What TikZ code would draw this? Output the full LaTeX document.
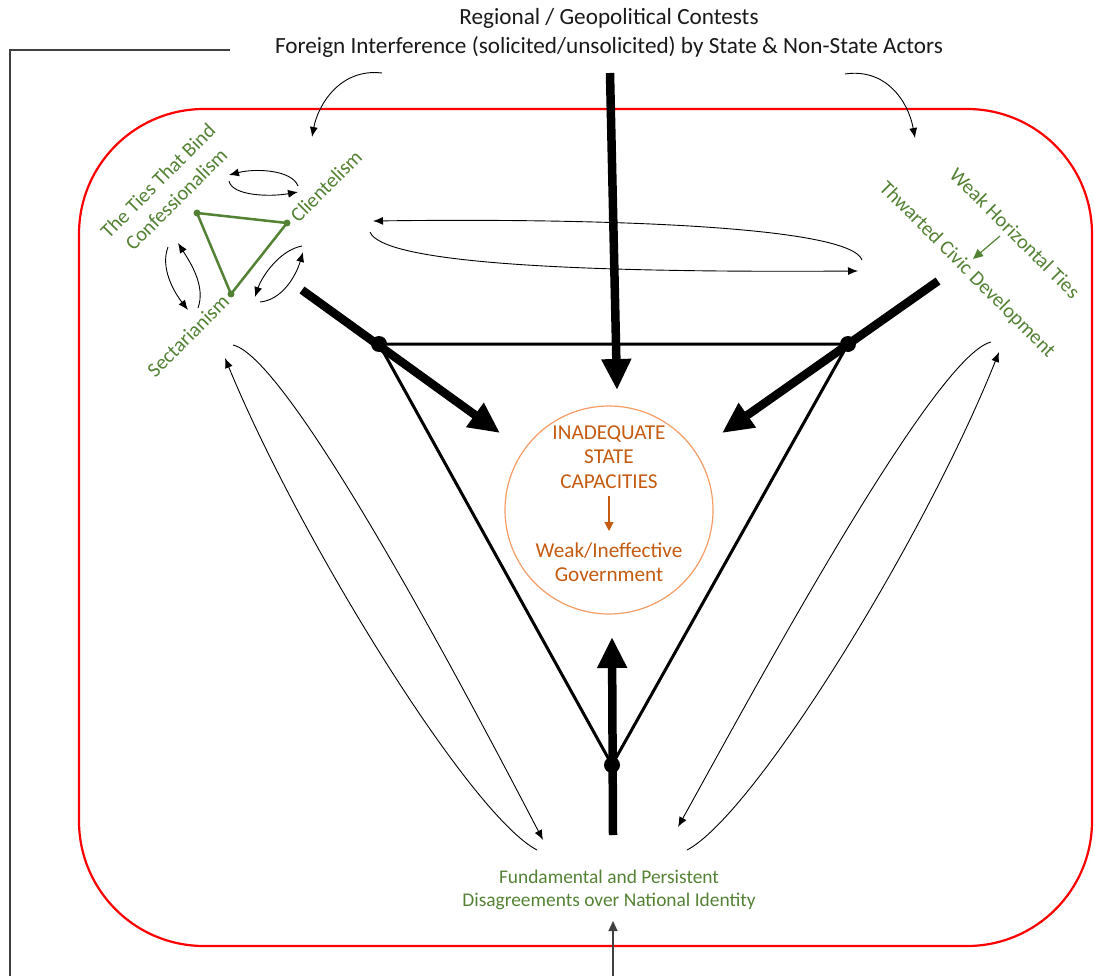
\documentclass[tikz,border=0pt]{standalone}
\usepackage{fontspec}
\setmainfont{Carlito}
\usetikzlibrary{arrows.meta}
\definecolor{grn}{RGB}{84,130,53}
\definecolor{orgline}{RGB}{244,156,100}
\definecolor{orgtext}{RGB}{197,90,17}
\definecolor{dgray}{RGB}{64,64,64}
\begin{document}
\begin{tikzpicture}[x=1pt,y=-1pt,
  thinarrow/.style={line width=0.9pt, -{Latex[length=10pt,width=8pt]}},
  thickarrow/.style={line width=8.5pt, -{Triangle[length=31pt,width=28pt]}},
  glabel/.style={text=grn, font=\fontsize{20.5}{26}\selectfont, inner sep=0pt, align=center},
  olabel/.style={text=orgtext, font=\fontsize{21.2}{24.5}\selectfont, inner sep=0pt, align=center},
  bigdot/.style={circle, fill=black, inner sep=0pt, minimum size=16pt},
  gdot/.style={circle, fill=grn, inner sep=0pt, minimum size=7pt},
]
\useasboundingbox (0,0) rectangle (1094,976);

% outer frame
\draw[red, line width=2.2pt, rounded corners=125pt] (79,109) rectangle (1092,946);

% gray external line
\coordinate (g0) at (230,50);
\coordinate (g1) at (10,50);
\coordinate (g2) at (10,985);
\draw[dgray, line width=1.3pt] (g0) -- (g1) -- (g2);

% top text
\node[font=\fontsize{23.2}{29}\selectfont, text=black!90, align=center, inner sep=0pt] (top) at (609,33)
  {Regional / Geopolitical Contests\\Foreign Interference (solicited/unsolicited) by State \& Non-State Actors};

% top curved arrows
\coordinate (tla) at (382,73);
\coordinate (tlb) at (312,137);
\draw[thinarrow] (tla) .. controls (340,68) and (318,105) .. (tlb);
\coordinate (tra) at (845,74);
\coordinate (trb) at (915,138);
\draw[thinarrow] (tra) .. controls (885,68) and (908,100) .. (trb);

% green labels
\node[glabel, rotate=45] (ties) at (167,190) {The Ties That Bind\\Confessionalism};
\node[glabel, rotate=45] (client) at (326,186) {Clientelism};
\node[glabel, rotate=45] (sect) at (188,336) {Sectarianism};
\node[glabel, rotate=-45] (weak) at (1015,233) {Weak Horizontal Ties};
\node[glabel, rotate=-45] (thw) at (967,270) {Thwarted Civic Development};
\node[glabel, font=\fontsize{19.4}{23}\selectfont] (fund) at (609,890)
  {Fundamental and Persistent\\Disagreements over National Identity};

% green small arrow
\coordinate (ga0) at (1000,236);
\coordinate (ga1) at (973,259);
\draw[grn, line width=1.2pt, -{Triangle[length=10pt,width=9pt]}] (ga0) -- (ga1);

% green triangle
\node[gdot] (gc) at (197,213) {};
\node[gdot] (gk) at (287,223) {};
\node[gdot] (gs) at (231,294) {};
\draw[grn, line width=2.5pt] (gc.center) -- (gk.center) -- (gs.center) -- cycle;

% small double arrows around green triangle
\coordinate (a1s) at (298,186);
\coordinate (a1e) at (229,175);
\draw[thinarrow] (a1s) .. controls (292,170) and (256,168) .. (a1e);
\coordinate (a2s) at (229,181);
\coordinate (a2e) at (298,192);
\draw[thinarrow] (a2s) .. controls (232,196) and (270,197) .. (a2e);

\coordinate (b1s) at (198,308);
\coordinate (b1e) at (178,243);
\draw[thinarrow] (b1s) .. controls (206,286) and (190,262) .. (b1e);
\coordinate (b2s) at (168,247);
\coordinate (b2e) at (188,310);
\draw[thinarrow] (b2s) .. controls (160,268) and (174,292) .. (b2e);

\coordinate (c1s) at (302,246);
\coordinate (c1e) at (255,297);
\draw[thinarrow] (c1s) .. controls (280,250) and (262,276) .. (c1e);
\coordinate (c2s) at (260,302);
\coordinate (c2e) at (303,252);
\draw[thinarrow] (c2s) .. controls (282,300) and (296,276) .. (c2e);

% long horizontal loop
\coordinate (h1s) at (862,260);
\coordinate (h1e) at (373,221);
\draw[thinarrow] (h1s) .. controls (850,226) and (600,218) .. (h1e);
\coordinate (h2s) at (370,232);
\coordinate (h2e) at (858,271);
\draw[thinarrow] (h2s) .. controls (382,262) and (560,273) .. (h2e);

% long left loop
\coordinate (p0) at (537,850);
\coordinate (p1) at (225,358);
\draw[thinarrow] (p0) .. controls (470,815) and (300,540) .. (p1);
\coordinate (q0) at (233,345);
\coordinate (q1) at (543,840);
\draw[thinarrow] (q0) .. controls (290,358) and (470,700) .. (q1);

% long right loop
\coordinate (r0) at (687,850);
\coordinate (r1) at (999,352);
\draw[thinarrow] (r0) .. controls (754,815) and (924,540) .. (r1);
\coordinate (s0) at (991,342);
\coordinate (s1) at (678,827);
\draw[thinarrow] (s0) .. controls (934,356) and (754,690) .. (s1);

% central circle
\node[circle, draw=orgline, line width=1.2pt, minimum size=208pt, inner sep=0pt] (circ) at (609,510) {};
\node[olabel] (isc) at (609,457) {INADEQUATE\\STATE\\CAPACITIES};
\node[olabel] (wig) at (609,562) {Weak/Ineffective\\Government};
\coordinate (o0) at (609,496);
\coordinate (o1) at (609,531);
\draw[orgtext, line width=1.2pt, -{Triangle[length=9pt,width=9pt]}] (o0) -- (o1);

% main black triangle
\node[bigdot] (L) at (379,344) {};
\node[bigdot] (R) at (848,344) {};
\node[bigdot] (B) at (612,765) {};
\draw[line width=3pt, line join=round] (L.center) -- (R.center) -- (B.center) -- cycle;

% thick arrows
\coordinate (t0) at (610,73);
\coordinate (t1) at (617,390);
\draw[thickarrow] (t0) -- (t1);
\coordinate (l0) at (302,290);
\coordinate (l1) at (500,433);
\draw[thickarrow] (l0) -- (l1);
\coordinate (k0) at (938,281);
\coordinate (k1) at (722,433);
\draw[thickarrow] (k0) -- (k1);
\coordinate (u0) at (613,835);
\coordinate (u1) at (612,637);
\draw[thickarrow] (u0) -- (u1);

% bottom gray arrow
\coordinate (bt0) at (613,985);
\coordinate (bt1) at (613,921);
\draw[dgray, line width=1.1pt, -{Triangle[length=10pt,width=9pt]}] (bt0) -- (bt1);
\end{tikzpicture}
\end{document}
